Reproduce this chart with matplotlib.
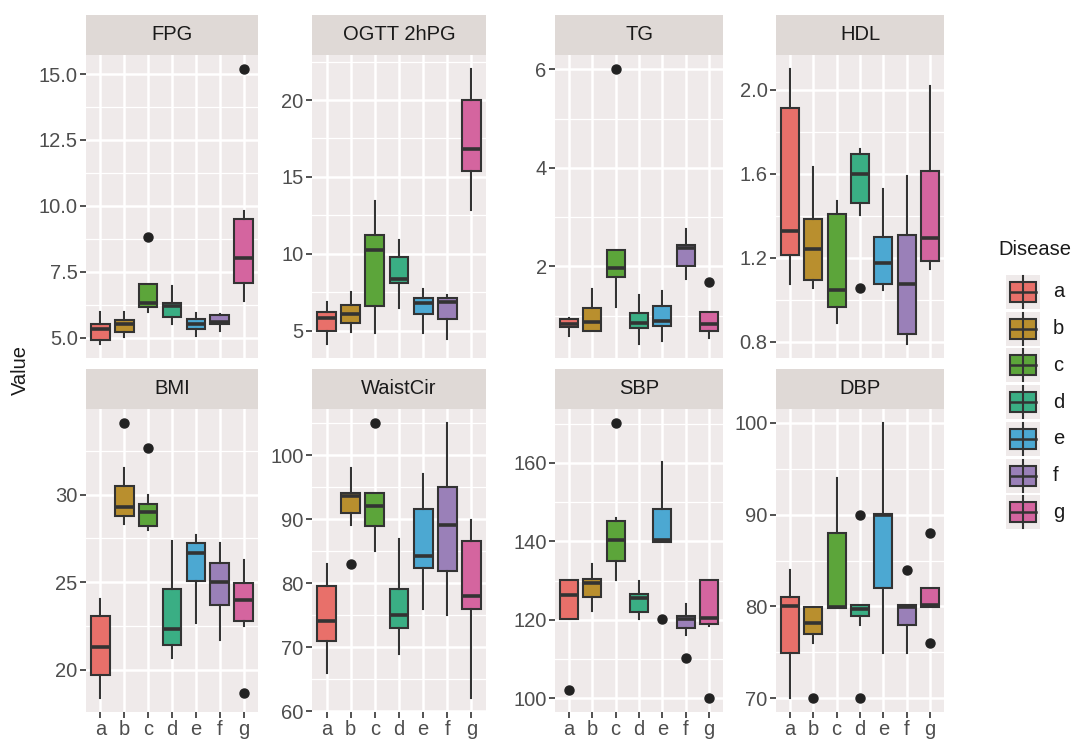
import numpy as np
import matplotlib.pyplot as plt
from matplotlib.patches import Rectangle

plt.rcParams['font.family'] = ['Liberation Sans', 'DejaVu Sans']

groups = ['a', 'b', 'c', 'd', 'e', 'f', 'g']
colors = ['#E8706A', '#B98F2E', '#5CA53A', '#3AAE84', '#4CA8D2', '#9A80B8', '#D4659F']

# box stats per group: [whisker low, q1, median, q3, whisker high]
fpg_stats = [[4.75, 4.91, 5.34, 5.53, 5.99], [5.03, 5.23, 5.53, 5.66, 5.99],
             [5.98, 6.17, 6.30, 7.02, 7.02], [5.53, 5.80, 6.21, 6.31, 6.97],
             [5.06, 5.34, 5.53, 5.70, 5.93], [5.25, 5.53, 5.61, 5.86, 5.90],
             [6.40, 7.07, 8.02, 9.51, 9.80]]
fpg_out = [[], [], [8.82], [], [], [], [15.2]]

ogtt_stats = [[4.13, 5.00, 5.81, 6.20, 6.85], [4.93, 5.54, 6.09, 6.68, 7.55],
              [4.83, 6.63, 10.23, 11.25, 13.45], [6.46, 8.09, 8.37, 9.83, 10.88],
              [4.83, 6.09, 6.79, 7.11, 7.72], [4.50, 5.76, 6.89, 7.11, 7.33],
              [12.88, 15.41, 16.80, 20.0, 22.03]]
ogtt_out = [[], [], [], [], [], [], []]

tg_stats = [[0.59, 0.76, 0.83, 0.93, 0.95], [0.69, 0.69, 0.87, 1.16, 1.54],
            [1.18, 1.78, 1.96, 2.34, 2.34], [0.42, 0.74, 0.85, 1.06, 1.42],
            [0.49, 0.78, 0.89, 1.20, 1.50], [1.74, 2.00, 2.37, 2.44, 2.75],
            [0.55, 0.69, 0.83, 1.08, 1.08]]
tg_out = [[], [], [6.01], [], [], [], [1.69]]

hdl_stats = [[1.074, 1.213, 1.325, 1.912, 2.10], [1.055, 1.095, 1.239, 1.382, 1.630],
             [0.886, 0.963, 1.046, 1.41, 1.47], [1.405, 1.462, 1.598, 1.694, 1.717],
             [1.047, 1.074, 1.175, 1.298, 1.529], [0.787, 0.838, 1.074, 1.306, 1.59],
             [1.146, 1.183, 1.295, 1.612, 2.02]]
hdl_out = [[], [], [], [1.055], [], [], []]

bmi_stats = [[18.38, 19.68, 21.30, 23.07, 24.06], [28.30, 28.78, 29.30, 30.50, 31.54],
             [28.0, 28.21, 29.01, 29.49, 29.96], [20.69, 21.43, 22.34, 24.59, 27.35],
             [22.67, 25.07, 26.69, 27.24, 27.68], [21.68, 23.71, 25.01, 26.10, 27.24],
             [22.48, 22.76, 23.96, 24.95, 26.25]]
bmi_out = [[], [34.1], [32.67], [], [], [], [18.67]]

waist_stats = [[65.95, 70.95, 74.03, 79.5, 82.95], [89.05, 90.98, 93.59, 94.11, 98.0],
               [84.98, 88.94, 92.02, 94.11, 94.11], [68.97, 73.0, 74.97, 79.04, 86.96],
               [76.01, 82.42, 84.25, 91.55, 96.98], [74.97, 81.90, 89.05, 95.05, 105.06],
               [62.03, 76.01, 77.99, 86.55, 89.93]]
waist_out = [[], [83.0], [105.06], [], [], [], []]

sbp_stats = [[120.1, 120.1, 126.3, 130.1, 130.1], [122.3, 125.9, 129.3, 130.3, 134.1],
             [130.1, 134.97, 140.3, 145.15, 146.0], [120.1, 121.9, 125.6, 126.5, 130.0],
             [139.7, 139.7, 140.3, 148.2, 160.1], [116.1, 118.0, 120.2, 121.0, 123.9],
             [118.4, 118.9, 120.4, 130.1, 130.1]]
sbp_out = [[102.1], [], [170.2], [], [120.1], [110.2], [100.0]]

dbp_stats = [[70.0, 74.97, 80.08, 80.99, 83.96], [76.06, 76.96, 78.16, 79.97, 79.97],
             [79.87, 79.87, 79.97, 88.03, 93.94], [77.98, 78.96, 79.72, 80.16, 80.16],
             [74.97, 81.97, 89.95, 90.06, 100.0], [74.97, 77.98, 79.97, 80.16, 80.16],
             [79.97, 79.97, 80.16, 81.97, 81.97]]
dbp_out = [[], [70.0], [], [90.0, 70.0], [], [83.96], [88.03, 75.98]]

panel_names = ['FPG', 'OGTT 2hPG', 'TG', 'HDL', 'BMI', 'WaistCir', 'SBP', 'DBP']
panel_stats = [fpg_stats, ogtt_stats, tg_stats, hdl_stats,
               bmi_stats, waist_stats, sbp_stats, dbp_stats]
panel_out = [fpg_out, ogtt_out, tg_out, hdl_out, bmi_out, waist_out, sbp_out, dbp_out]
panel_ticks = [[5.0, 7.5, 10.0, 12.5, 15.0], [5, 10, 15, 20], [2, 4, 6], [0.8, 1.2, 1.6, 2.0],
               [20, 25, 30], [60, 70, 80, 90, 100], [100, 120, 140, 160], [70, 80, 90, 100]]
panel_fmt = ['{:.1f}', '{:.0f}', '{:.0f}', '{:.1f}', '{:.0f}', '{:.0f}', '{:.0f}', '{:.0f}']

W, H = 1075, 740
fig = plt.figure(figsize=(W / 100, H / 100), dpi=100)

col_left = [86, 312, 555, 776]
col_width = [172, 174, 168, 168]
rows = [(15, 55, 358), (369, 409, 712)]   # strip top, strip bottom / panel top, panel bottom

panel_bg = '#EFEAEA'
strip_bg = '#DFD9D6'
edge = '#333333'
txt_col = '#4D4D4D'
fs = 14.5


def fig_rect(x0, y0, x1, y1):
    return [x0 / W, 1 - y1 / H, (x1 - x0) / W, (y1 - y0) / H]


for i, name in enumerate(panel_names):
    r, c = divmod(i, 4)
    st, sb, pb = rows[r]
    x0, x1 = col_left[c], col_left[c] + col_width[c]

    # strip
    sax = fig.add_axes(fig_rect(x0, st, x1, sb))
    sax.set_facecolor(strip_bg)
    sax.set_xticks([])
    sax.set_yticks([])
    for s in sax.spines.values():
        s.set_visible(False)
    sax.text(0.5, 0.5, name, ha='center', va='center', fontsize=fs, color='#1A1A1A')

    ax = fig.add_axes(fig_rect(x0, sb, x1, pb))
    ax.set_facecolor(panel_bg)
    stats = panel_stats[i]
    outs = panel_out[i]
    bx = [dict(whislo=s[0], q1=s[1], med=s[2], q3=s[3], whishi=s[4], fliers=f)
          for s, f in zip(stats, outs)]
    bp = ax.bxp(bx, positions=range(1, 8), widths=0.78, patch_artist=True, showcaps=False,
                boxprops=dict(edgecolor=edge, linewidth=1.5),
                medianprops=dict(color=edge, linewidth=2.6, solid_capstyle='butt'),
                whiskerprops=dict(color=edge, linewidth=1.5),
                flierprops=dict(marker='o', markerfacecolor='#222222', markeredgecolor='#222222',
                                markersize=6.5))
    for patch, col in zip(bp['boxes'], colors):
        patch.set_facecolor(col)

    lo = min(min(s[0] for s in stats), min([v for f in outs for v in f], default=1e9))
    hi = max(max(s[4] for s in stats), max([v for f in outs for v in f], default=-1e9))
    pad = (hi - lo) * 0.05
    ax.set_ylim(lo - pad, hi + pad)
    ax.set_xlim(0.4, 7.6)

    ticks = panel_ticks[i]
    ax.set_yticks(ticks)
    ax.set_yticklabels([panel_fmt[i].format(t) for t in ticks])
    step = ticks[1] - ticks[0]
    minor = [t - step / 2 for t in ticks] + [ticks[-1] + step / 2]
    minor = [m for m in minor if lo - pad < m < hi + pad]
    ax.set_yticks(minor, minor=True)

    ax.set_xticks(range(1, 8))
    if r == 1:
        ax.set_xticklabels(groups)
        ax.tick_params(axis='x', length=4, width=1.2, color=edge, labelsize=fs,
                       labelcolor=txt_col, pad=2)
    else:
        ax.set_xticklabels([])
        ax.tick_params(axis='x', length=0)
    ax.tick_params(axis='y', length=4, width=1.2, color=edge, labelsize=fs,
                   labelcolor=txt_col, pad=2)
    ax.tick_params(which='minor', length=0)

    ax.set_axisbelow(True)
    ax.grid(which='major', color='white', linewidth=1.8)
    ax.grid(which='minor', axis='y', color='white', linewidth=0.9)
    for s in ax.spines.values():
        s.set_visible(False)

fig.text(20 / W, 1 - 370 / H, 'Value', rotation=90, ha='center', va='center',
         fontsize=fs, color='#1A1A1A')

# legend
lax = fig.add_axes(fig_rect(990, 230, 1075, 530))
lax.set_xlim(990, 1075)
lax.set_ylim(530, 230)
lax.axis('off')
lax.text(998, 250, 'Disease', ha='left', va='center', fontsize=fs, color='#1A1A1A')
for k, (g, col) in enumerate(zip(groups, colors)):
    cy = 292 + k * 36.7
    lax.add_patch(Rectangle((1006, cy - 17), 34, 34, facecolor=panel_bg, edgecolor='none'))
    lax.plot([1023, 1023], [cy - 16, cy + 16], color=edge, lw=1.5)
    lax.add_patch(Rectangle((1010, cy - 10), 26, 20, facecolor=col, edgecolor=edge, lw=1.5))
    lax.plot([1010, 1036], [cy, cy], color=edge, lw=1.8)
    lax.text(1053, cy, g, ha='left', va='center', fontsize=fs, color='#1A1A1A')

fig.savefig('out.png', dpi=100)
